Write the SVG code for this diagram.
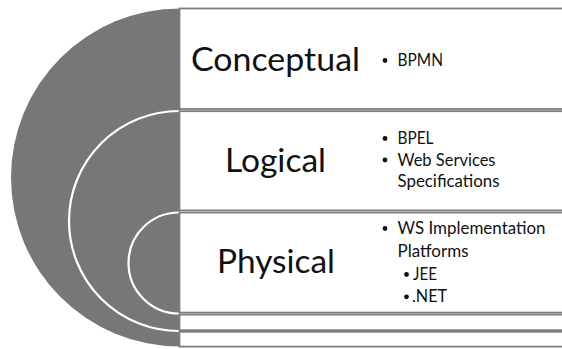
<svg xmlns="http://www.w3.org/2000/svg" width="562" height="349" viewBox="0 0 562 349">
  <style>
    .band { fill: #ffffff; stroke: #7d7d7d; stroke-width: 1.8; }
    .ring { fill: none; stroke: #ffffff; stroke-width: 2.2; }
    .title { font-family: Lato, "Open Sans", sans-serif; font-size: 32.5px; fill: #111111; }
    .item { font-family: Lato, "Open Sans", sans-serif; font-size: 16.4px; fill: #111111; }
    .dot { fill: #111111; }
  </style>

  <!-- nested half-rings on the left -->
  <g id="rings">
    <path d="M180,8.5 A169,169 0 0 0 180,346.5 Z" fill="#777777"/>
    <path class="ring" d="M179,111 A110,110 0 0 0 179,331"/>
    <path class="ring" d="M179,212.5 A50.5,50.5 0 0 0 179,313.5"/>
  </g>

  <g id="conceptual">
    <rect class="band" x="179.5" y="8.5" width="400" height="100.5"/>
    <text class="title" x="191" y="70.5" textLength="169" lengthAdjust="spacingAndGlyphs">Conceptual</text>
    <circle class="dot" cx="385" cy="60.5" r="2.4"/>
    <text class="item" x="397.5" y="66" textLength="45.5" lengthAdjust="spacingAndGlyphs">BPMN</text>
  </g>

  <g id="logical">
    <rect class="band" x="179.5" y="111.2" width="400" height="99.2"/>
    <text class="title" x="225" y="172" textLength="101" lengthAdjust="spacingAndGlyphs">Logical</text>
    <circle class="dot" cx="385" cy="138.5" r="2.4"/>
    <text class="item" x="397.5" y="144" textLength="36" lengthAdjust="spacingAndGlyphs">BPEL</text>
    <circle class="dot" cx="385" cy="160" r="2.4"/>
    <text class="item" x="397.5" y="165.5" textLength="98" lengthAdjust="spacingAndGlyphs">Web Services</text>
    <text class="item" x="397.5" y="187" textLength="102" lengthAdjust="spacingAndGlyphs">Specifications</text>
  </g>

  <g id="physical">
    <rect class="band" x="179.5" y="212.6" width="400" height="100"/>
    <text class="title" x="217" y="273" textLength="118" lengthAdjust="spacingAndGlyphs">Physical</text>
    <circle class="dot" cx="385" cy="228.5" r="2.4"/>
    <text class="item" x="397.5" y="234.3" textLength="148" lengthAdjust="spacingAndGlyphs">WS Implementation</text>
    <text class="item" x="397.5" y="256.5" textLength="71" lengthAdjust="spacingAndGlyphs">Platforms</text>
    <circle class="dot" cx="406.5" cy="274.5" r="2.4"/>
    <text class="item" x="413" y="280" textLength="24" lengthAdjust="spacingAndGlyphs">JEE</text>
    <circle class="dot" cx="406.5" cy="296.8" r="2.4"/>
    <text class="item" x="412" y="302.3" textLength="35" lengthAdjust="spacingAndGlyphs">.NET</text>
  </g>

  <g id="band-4">
    <rect class="band" x="179.5" y="314.6" width="400" height="15.6"/>
  </g>

  <g id="band-5">
    <rect class="band" x="179.5" y="331.8" width="400" height="14.8"/>
  </g>
</svg>
